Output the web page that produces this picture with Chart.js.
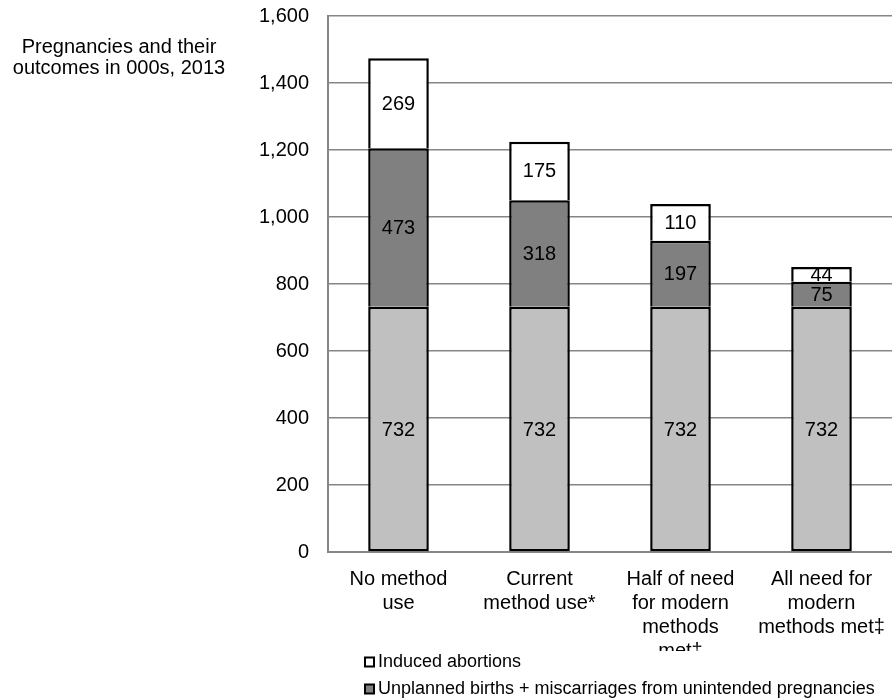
<!DOCTYPE html>
<html>
<head>
<meta charset="utf-8">
<script src="https://cdn.jsdelivr.net/npm/chart.js@4/dist/chart.umd.min.js"></script>
<style>
  html, body { margin: 0; padding: 0; background: #fff; overflow: hidden; }
  #wrap { width: 892px; height: 700px; }
</style>
</head>
<body>
<div id="wrap"><canvas id="pregChart" width="892" height="700"></canvas></div>
<script>
// Chart data
var categories = [
  ['No method', 'use'],
  ['Current', 'method use*'],
  ['Half of need', 'for modern', 'methods', 'met\u2021'],
  ['All need for', 'modern', 'methods met\u2021']
];
var plannedBirths = [732, 732, 732, 732];
var unplannedBirths = [473, 318, 197, 75];
var inducedAbortions = [269, 175, 110, 44];
var yTicks = [0, 200, 400, 600, 800, 1000, 1200, 1400, 1600];
var axisTitle = ['Pregnancies and their', 'outcomes in 000s, 2013'];

var FONT = 'Arial, "Liberation Sans", sans-serif';

// draws the numbers inside each bar segment
var segmentLabels = {
  id: 'segmentLabels',
  afterDatasetsDraw: function (chart) {
    var ctx = chart.ctx;
    ctx.save();
    ctx.font = '20px ' + FONT;
    ctx.fillStyle = '#000';
    ctx.textAlign = 'center';
    ctx.textBaseline = 'middle';
    chart.data.datasets.forEach(function (ds, i) {
      chart.getDatasetMeta(i).data.forEach(function (bar, j) {
        var mid = (bar.y + bar.base) / 2;
        ctx.fillText(ds.data[j], bar.x, mid + 1);
      });
    });
    ctx.restore();
  }
};

// axis title at top left + legend at the bottom (Excel style)
var extras = {
  id: 'extras',
  afterDraw: function (chart) {
    var ctx = chart.ctx;
    ctx.save();
    ctx.font = '20px ' + FONT;
    ctx.fillStyle = '#000';
    ctx.textAlign = 'center';
    ctx.textBaseline = 'middle';
    ctx.fillText(axisTitle[0], 119, 47);
    ctx.fillText(axisTitle[1], 119, 68);

    // legend box hides the overflowing tick line, like the original
    ctx.fillStyle = '#fff';
    ctx.fillRect(360, 651, 532, 60);

    var items = [chart.data.datasets[2], chart.data.datasets[1], chart.data.datasets[0]];
    ctx.font = '18px ' + FONT;
    ctx.textAlign = 'left';
    items.forEach(function (ds, k) {
      var y = 662 + k * 27;
      ctx.fillStyle = ds.backgroundColor;
      ctx.fillRect(365, y - 4.5, 9, 9);
      ctx.strokeStyle = '#000';
      ctx.lineWidth = 2;
      ctx.strokeRect(365, y - 4.5, 9, 9);
      ctx.fillStyle = '#000';
      ctx.fillText(ds.label, 378, y);
    });
    ctx.restore();
  }
};

var ctx = document.getElementById('pregChart').getContext('2d');
var myChart = new Chart(ctx, {
  type: 'bar',
  data: {
    labels: categories,
    datasets: [{
      label: 'Planned births + miscarriages from intended pregnancies',
      data: plannedBirths,
      backgroundColor: '#c0c0c0',
      borderColor: '#000',
      borderWidth: 2.5,
      borderSkipped: false
    }, {
      label: 'Unplanned births + miscarriages from unintended pregnancies',
      data: unplannedBirths,
      backgroundColor: '#808080',
      borderColor: '#000',
      borderWidth: 2.5,
      borderSkipped: 'bottom'
    }, {
      label: 'Induced abortions',
      data: inducedAbortions,
      backgroundColor: '#ffffff',
      borderColor: '#000',
      borderWidth: 2.5,
      borderSkipped: 'bottom'
    }]
  },
  options: {
    responsive: false,
    animation: false,
    layout: { padding: { top: 16, right: 0, left: 0, bottom: 0 } },
    datasets: { bar: { barPercentage: 0.43, categoryPercentage: 1, inflateAmount: 0 } },
    plugins: {
      legend: { display: false },
      tooltip: { enabled: false }
    },
    scales: {
      x: {
        stacked: true,
        grid: { display: false, drawTicks: false },
        border: { color: '#868686', width: 2 },
        ticks: {
          color: '#000',
          font: { family: FONT, size: 20, lineHeight: 1.2 },
          padding: 15,
          maxRotation: 0,
          autoSkip: false
        },
        afterFit: function (scale) {
          scale.height = 148;
          scale.paddingLeft = 0;
          scale.paddingRight = 0;
        }
      },
      y: {
        stacked: true,
        min: 0,
        max: 1600,
        afterBuildTicks: function (scale) {
          scale.ticks = yTicks.map(function (v) { return { value: v }; });
        },
        grid: { color: '#868686', lineWidth: 1.5, drawTicks: false },
        border: { color: '#868686', width: 2 },
        ticks: {
          color: '#000',
          font: { family: FONT, size: 20 },
          padding: 19,
          callback: function (v) { return v.toLocaleString('en-US'); }
        },
        afterFit: function (scale) {
          scale.width = 328;
          scale.paddingTop = 0;
          scale.paddingBottom = 0;
        }
      }
    }
  },
  plugins: [segmentLabels, extras]
});
</script>
</body>
</html>
